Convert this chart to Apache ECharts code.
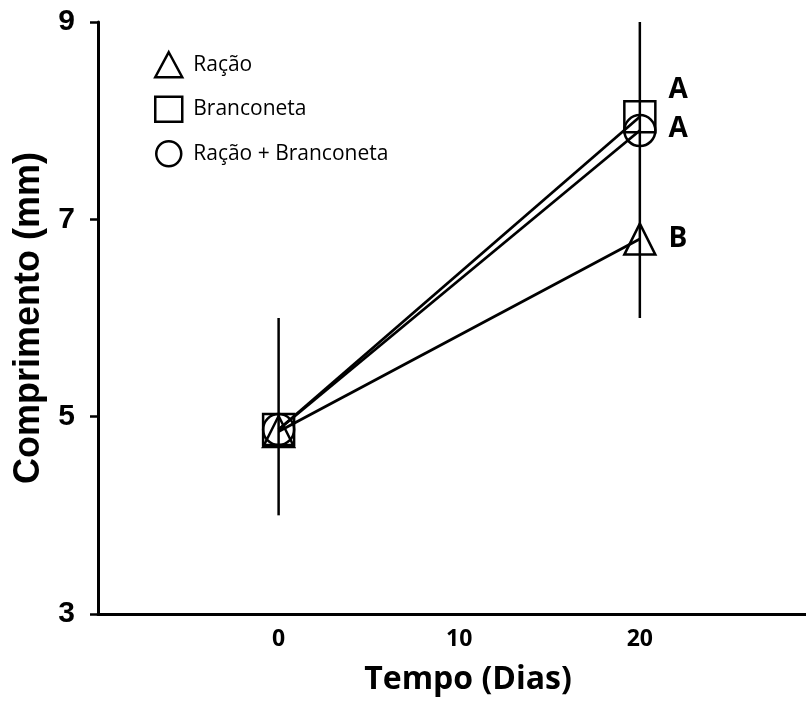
<!DOCTYPE html>
<html>
<head>
<meta charset="utf-8">
<script src="https://cdn.jsdelivr.net/npm/echarts@6/dist/echarts.min.js"></script>
<style>
html, body { margin: 0; padding: 0; background: #fff; }
#chart { width: 806px; height: 702px; }
</style>
</head>
<body>
<div id="chart"></div>
<script>
// dados
const days = [0, 20]
const racao = [4.85, 6.8]
const branconeta = [4.87, 8.04]
const racaoBranconeta = [4.87, 7.9]
const seriesNames = ['Ração', 'Branconeta', 'Ração + Branconeta']
const seriesSymbols = ['triangle', 'rect', 'circle']
const sigLetters = ['B', 'A', 'A']
// barras de erro (uma por dia)
const errLow = [4.0, 6.0]
const errHigh = [6.0, 9.0]

const chart = echarts.init(document.getElementById('chart'))

function buildSeries(name, values, symbol, letter, offset) {
    return {
        name: name,
        type: 'line',
        symbol: symbol,
        symbolSize: 31,
        z: 3,
        itemStyle: { color: 'rgba(0,0,0,0)', borderColor: '#000', borderWidth: 2.5 },
        lineStyle: { color: '#000', width: 2.8 },
        data: values.map((v, i) => {
            let item = { value: [days[i], v] }
            if (i === values.length - 1) {
                item.label = {
                    show: true,
                    position: 'right',
                    distance: 12,
                    offset: offset,
                    formatter: letter,
                    color: '#000',
                    fontFamily: 'Open Sans',
                    fontWeight: 'bold',
                    fontSize: 28
                }
            }
            return item
        })
    }
}

const errorData = days.map((d, i) => [d, errLow[i], errHigh[i]])

const series = [
    buildSeries(seriesNames[0], racao, seriesSymbols[0], sigLetters[0], [0, 0]),
    buildSeries(seriesNames[1], branconeta, seriesSymbols[1], sigLetters[1], [0, -27]),
    buildSeries(seriesNames[2], racaoBranconeta, seriesSymbols[2], sigLetters[2], [0, -2]),
    {
        type: 'custom',
        z: 4,
        encode: { x: 0, y: [1, 2] },
        renderItem: function (params, api) {
            const top = api.coord([api.value(0), api.value(2)])
            const bottom = api.coord([api.value(0), api.value(1)])
            return {
                type: 'line',
                shape: { x1: top[0], y1: top[1], x2: bottom[0], y2: bottom[1] },
                style: { stroke: '#000', lineWidth: 2.5 }
            }
        },
        data: errorData
    }
]

const option = {
    backgroundColor: '#fff',
    animation: false,
    grid: { left: 98, right: 0, top: 22, bottom: 88, outerBoundsMode: 'none', containLabel: false },
    legend: {
        orient: 'vertical',
        left: 154,
        top: 51,
        padding: 0,
        itemWidth: 27,
        itemHeight: 25,
        itemGap: 17,
        data: seriesNames.map((n, i) => ({ name: n, icon: seriesSymbols[i] })),
        itemStyle: { color: 'rgba(0,0,0,0)', borderColor: '#000', borderWidth: 2.5 },
        textStyle: {
            color: '#000',
            fontFamily: 'Open Sans',
            fontSize: 21,
            padding: [4, 0, 0, 6]
        }
    },
    xAxis: {
        type: 'value',
        min: -10,
        max: 29.2,
        interval: 10,
        name: 'Tempo (Dias)',
        nameLocation: 'middle',
        nameGap: 50,
        nameTextStyle: {
            color: '#000',
            fontFamily: 'Open Sans',
            fontWeight: 'bold',
            fontSize: 32,
            padding: [0, 0, 0, 32]
        },
        axisLine: { onZero: false, lineStyle: { color: '#000', width: 3 } },
        axisTick: { show: false },
        splitLine: { show: false },
        axisLabel: {
            showMinLabel: false,
            showMaxLabel: false,
            margin: 14,
            color: '#000',
            fontFamily: 'Open Sans',
            fontWeight: 'bold',
            fontSize: 23
        }
    },
    yAxis: {
        type: 'value',
        min: 3,
        max: 9,
        interval: 2,
        name: 'Comprimento (mm)',
        nameLocation: 'middle',
        nameGap: 50,
        nameTextStyle: {
            color: '#000',
            fontFamily: 'Liberation Sans',
            fontWeight: 'bold',
            fontSize: 36
        },
        axisLine: { show: true, onZero: false, lineStyle: { color: '#000', width: 3 } },
        axisTick: { show: true, length: 8, lineStyle: { color: '#000', width: 2.5 } },
        splitLine: { show: false },
        axisLabel: {
            margin: 23,
            color: '#000',
            fontFamily: 'Liberation Sans',
            fontWeight: 'bold',
            fontSize: 30
        }
    },
    series: series
}

chart.setOption(option)
</script>
</body>
</html>
